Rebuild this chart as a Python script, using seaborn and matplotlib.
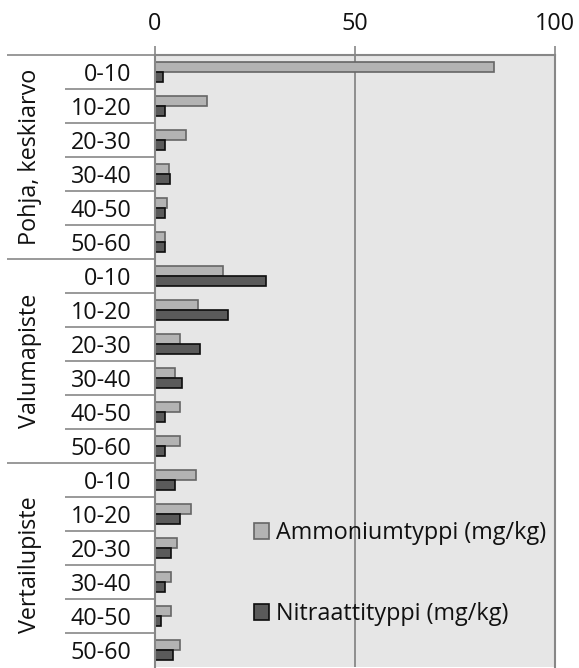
import matplotlib
matplotlib.use("Agg")
import matplotlib.pyplot as plt
import matplotlib.transforms as mtransforms
from matplotlib.patches import Patch
import seaborn as sns
import pandas as pd

# ---- data ----
groups = ["Pohja, keskiarvo", "Valumapiste", "Vertailupiste"]
depths = ["0-10", "10-20", "20-30", "30-40", "40-50", "50-60"]
series_names = ["Ammoniumtyppi (mg/kg)", "Nitraattityppi (mg/kg)"]
ammonium = [84.7, 13.1, 7.7, 3.5, 3.1, 2.5,
            17.0, 10.7, 6.2, 5.1, 6.3, 6.3,
            10.2, 9.1, 5.6, 4.1, 4.1, 6.2]
nitraatti = [2.1, 2.6, 2.6, 3.7, 2.6, 2.6,
             27.7, 18.2, 11.2, 6.7, 2.6, 2.6,
             5.1, 6.2, 4.1, 2.6, 1.6, 4.6]
xticks = [0, 50, 100]

# ---- build table ----
rows = []
keys = []
for gi, g in enumerate(groups):
    for di, d in enumerate(depths):
        k = f"{g}|{d}"
        keys.append(k)
        idx = gi * len(depths) + di
        rows.append({"key": k, "series": series_names[0], "value": ammonium[idx]})
        rows.append({"key": k, "series": series_names[1], "value": nitraatti[idx]})
df = pd.DataFrame(rows)

W, H = 579, 668
FS = 16.8
sns.set_style("white")
plt.rcParams["font.family"] = ["Open Sans", "DejaVu Sans"]
fig = plt.figure(figsize=(W / 100, H / 100), dpi=100)

ax_left, ax_right, ax_top, ax_bot = 155, 555, 55, 667
ax = fig.add_axes([ax_left / W, 1 - ax_bot / H, (ax_right - ax_left) / W, (ax_bot - ax_top) / H])

fill_cols = ["#b3b3b3", "#5a5a5a"]
edge_cols = ["#666666", "#0d0d0d"]
sns.barplot(data=df, y="key", x="value", hue="series", order=keys,
            hue_order=series_names, palette=fill_cols, orient="h",
            width=0.58, ax=ax, legend=False, saturation=1)

for i, container in enumerate(ax.containers):
    for bar in container:
        bar.set_edgecolor(edge_cols[i])
        bar.set_linewidth(1.2)

ax.set_facecolor("#e6e6e6")
ax.set_xlim(0, 100)
ax.set_ylim(len(keys) - 0.5, -0.5)
ax.set_xlabel("")
ax.set_ylabel("")

line_col = "#878787"
ax.spines["bottom"].set_visible(False)
for s in ["top", "right", "left"]:
    ax.spines[s].set_visible(True)
    ax.spines[s].set_color(line_col)
    ax.spines[s].set_linewidth(1.5)
ax.axvline(50, color=line_col, lw=1.3, zorder=0.5)

ax.xaxis.tick_top()
ax.set_xticks(xticks)
ax.set_xticklabels([str(t) for t in xticks])
ax.tick_params(axis="x", top=True, bottom=False, length=6.5, width=1.2,
               color=line_col, labelsize=FS, pad=7, labelcolor="#111111")

ax.set_yticks(range(len(keys)))
ax.set_yticklabels(depths * len(groups))
ax.tick_params(axis="y", left=False, length=0, labelsize=FS, pad=17,
               labelcolor="#111111")

# category separators
trans = mtransforms.blended_transform_factory(fig.transFigure, ax.transData)
for b in range(len(keys)):
    y = b - 0.5
    x0 = 7 / W if b % len(depths) == 0 else 65 / W
    ax.plot([x0, ax_left / W], [y, y], transform=trans, color=line_col,
            lw=1.2, clip_on=False, solid_capstyle="butt")

# group labels
for gi, g in enumerate(groups):
    yc = gi * len(depths) + (len(depths) - 1) / 2
    ax.text(30 / W, yc, g, transform=trans, rotation=90, ha="center",
            va="center", fontsize=FS, color="#111111")

# legend
handles = [Patch(facecolor=fill_cols[i], edgecolor=edge_cols[i], linewidth=1.2)
           for i in range(2)]
ax.legend(handles=handles, labels=series_names, loc="upper left",
          bbox_to_anchor=(254 / W, 1 - 521 / H), bbox_transform=fig.transFigure,
          frameon=False, fontsize=FS, handlelength=0.65, handleheight=0.65,
          handletextpad=0.3, labelspacing=2.45, borderpad=0, borderaxespad=0,
          labelcolor="#111111")

fig.savefig("out.png", dpi=100)
